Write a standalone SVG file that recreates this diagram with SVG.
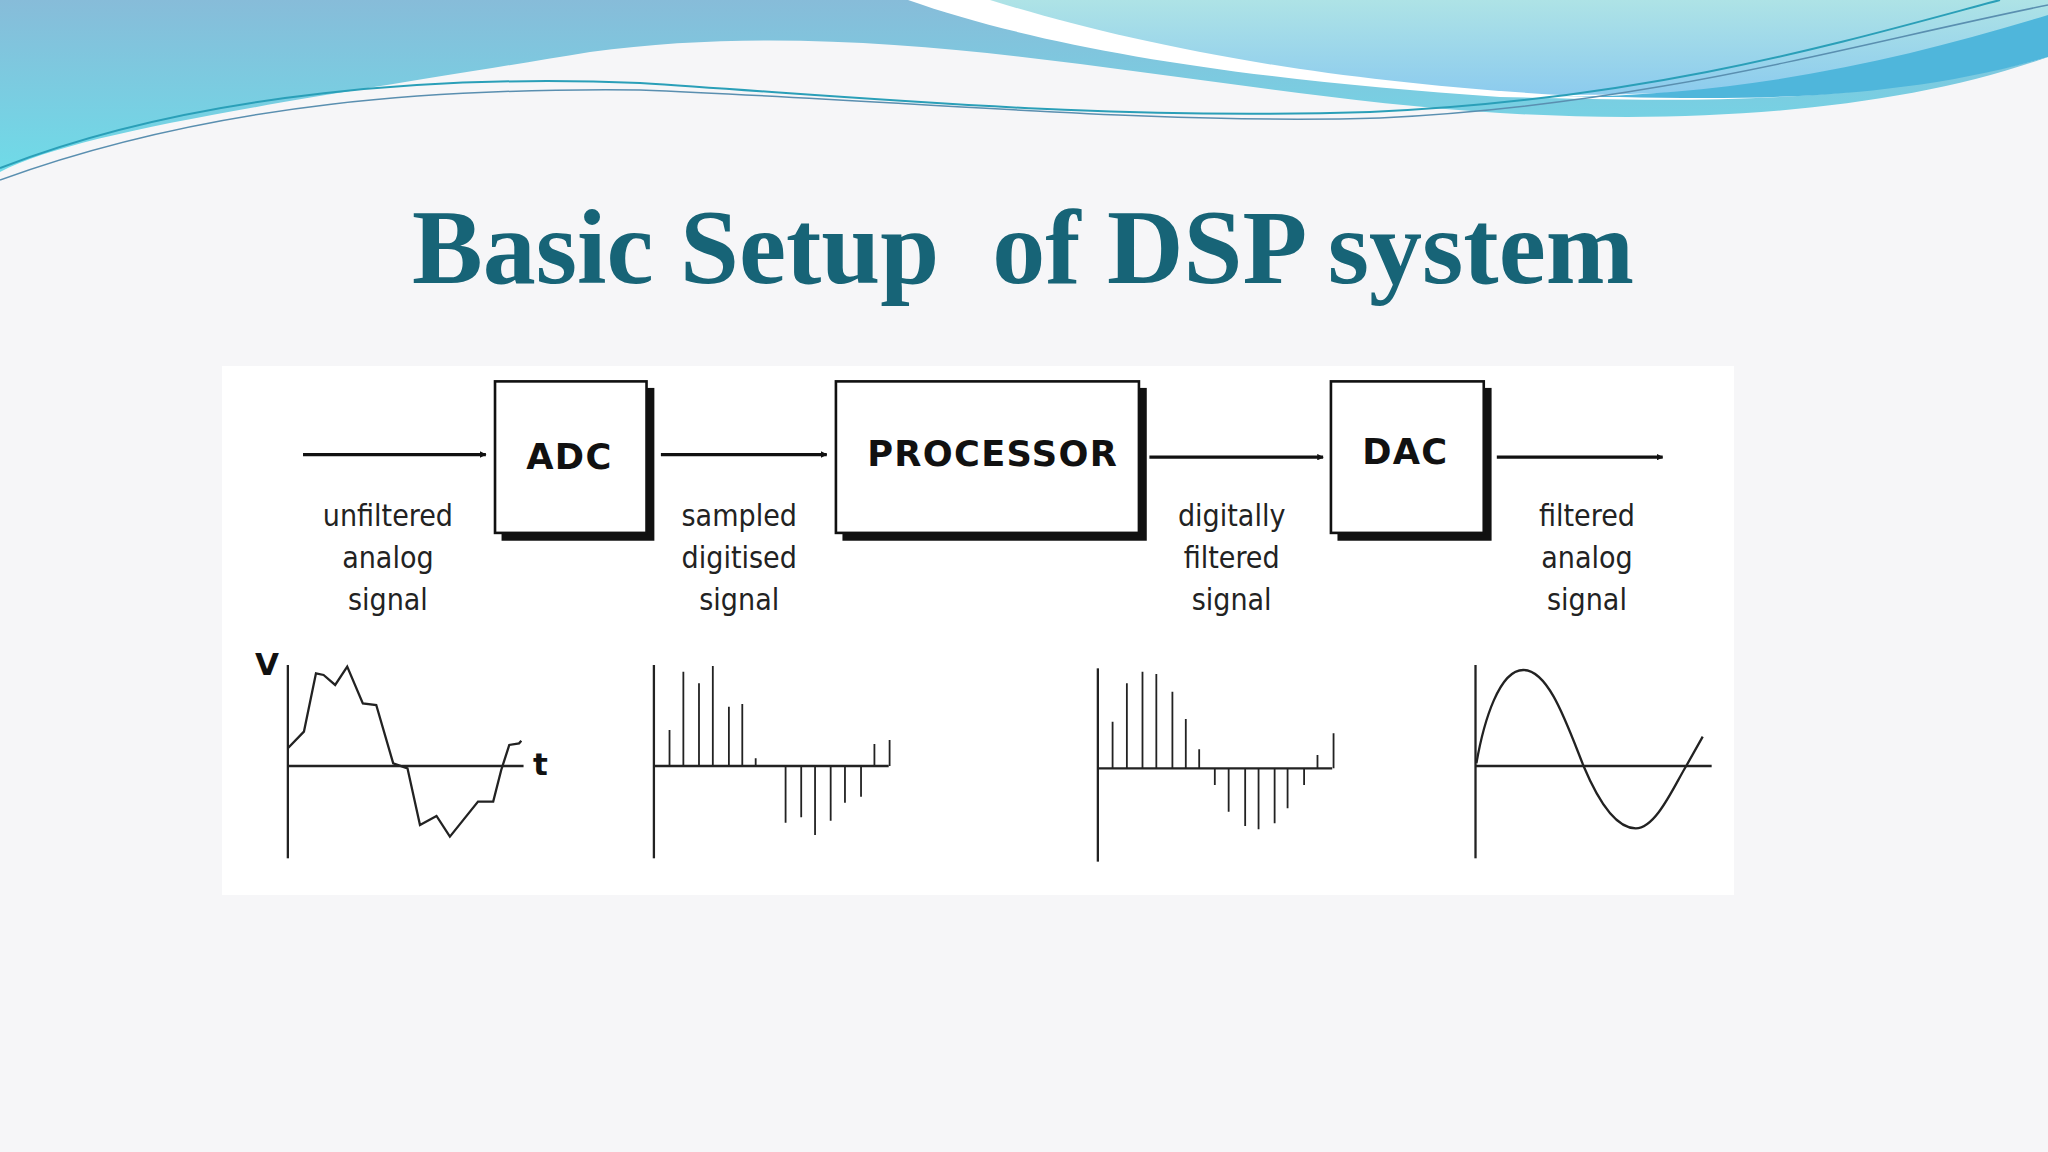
<svg xmlns="http://www.w3.org/2000/svg" width="2048" height="1152" viewBox="0 0 2048 1152">
<defs>
<linearGradient id="gA" x1="0" y1="0" x2="0" y2="1"><stop offset="0" stop-color="#87bcd9"/><stop offset="1" stop-color="#6fdbe8"/></linearGradient>
<linearGradient id="gB" x1="0" y1="0" x2="0" y2="1"><stop offset="0" stop-color="#aee3e6"/><stop offset="1" stop-color="#8ccbee"/></linearGradient>
<marker id="ah" viewBox="0 0 10 10" refX="9" refY="5" markerWidth="5" markerHeight="5" orient="auto" markerUnits="userSpaceOnUse"><path d="M0,0 L10,5 L0,10 z" fill="#111"/></marker>
<style>
.box{fill:#fff;stroke:#111;stroke-width:2}
.sh{fill:#111}
.bt{font-family:"DejaVu Sans",sans-serif;font-weight:bold;font-size:27px;fill:#111;text-anchor:middle;letter-spacing:1px}
.lb{font-family:"DejaVu Sans Condensed","DejaVu Sans",sans-serif;font-size:23px;fill:#222;text-anchor:middle}
.cn{stroke:#111;stroke-width:2.5;fill:none}
.w{stroke:#222;stroke-width:2.3;fill:none;vector-effect:non-scaling-stroke}
.ws{stroke:#222;stroke-width:1.8;fill:none;vector-effect:non-scaling-stroke}
.ax{font-family:"DejaVu Sans",sans-serif;font-weight:bold;font-size:31px;fill:#111}
</style>
</defs>
<rect width="2048" height="1152" fill="#f6f6f8"/>
<g id="header">
<path d="M0,0 H2048 V57 C1900,110 1700,125 1500,113 C1200,95 900,10 590,52 C300,100 80,130 0,172 Z" fill="url(#gA)"/>
<path d="M908,0 H2048 V57 C1850,110 1650,100 1500,97 C1250,80 1050,50 908,0 Z" fill="#fff"/>
<path d="M990,0 H2048 V25 C1900,85 1700,95 1560,95 C1300,80 1120,40 990,0 Z" fill="url(#gB)"/>
<path d="M1560,97 C1750,95 1900,60 2048,15 V57 C1900,100 1750,100 1620,97 Z" fill="#4fb6db"/>
<path d="M0,168 C200,90 450,75 640,83 C900,100 1100,120 1370,112 C1650,100 1850,40 2000,0" fill="none" stroke="#2a9fb8" stroke-width="2"/>
<path d="M0,180 C220,100 450,88 640,90 C900,100 1150,125 1380,118 C1650,105 1850,45 2048,5" fill="none" stroke="#5a8fb0" stroke-width="1.5"/>
</g>
<text x="1023" y="283" text-anchor="middle" font-family="Liberation Serif,serif" font-weight="bold" font-size="106" fill="#176477" xml:space="preserve">Basic Setup  of DSP system</text>
<rect x="222" y="366" width="1512" height="529" fill="#fff"/>
<g transform="scale(1.30612)">
<g id="connectors">
<line class="cn" x1="232" y1="348" x2="372" y2="348" marker-end="url(#ah)"/>
<line class="cn" x1="506" y1="348" x2="633" y2="348" marker-end="url(#ah)"/>
<line class="cn" x1="880" y1="350" x2="1013" y2="350" marker-end="url(#ah)"/>
<line class="cn" x1="1146" y1="350" x2="1273" y2="350" marker-end="url(#ah)"/>
</g>
<g id="adc"><rect class="sh" x="384" y="297" width="117" height="117"/><rect class="box" x="379" y="292" width="116" height="116"/><text class="bt" x="436" y="359">ADC</text></g>
<g id="processor"><rect class="sh" x="645" y="297" width="233" height="117"/><rect class="box" x="640" y="292" width="232" height="116"/><text class="bt" x="760" y="357">PROCESSOR</text></g>
<g id="dac"><rect class="sh" x="1024" y="297" width="118" height="117"/><rect class="box" x="1019" y="292" width="117" height="116"/><text class="bt" x="1076" y="355">DAC</text></g>
<g id="labels">
<text class="lb" x="297" y="403">unfiltered</text><text class="lb" x="297" y="435">analog</text><text class="lb" x="297" y="467">signal</text>
<text class="lb" x="566" y="403">sampled</text><text class="lb" x="566" y="435">digitised</text><text class="lb" x="566" y="467">signal</text>
<text class="lb" x="943" y="403">digitally</text><text class="lb" x="943" y="435">filtered</text><text class="lb" x="943" y="467">signal</text>
<text class="lb" x="1215" y="403">filtered</text><text class="lb" x="1215" y="435">analog</text><text class="lb" x="1215" y="467">signal</text>
</g>
</g>
<g id="wave1">
<g transform="translate(220,640) scale(0.4464,0.3333)">
<line class="w" x1="152" y1="75" x2="152" y2="655"/><line class="w" x1="152" y1="378" x2="680" y2="378"/>
<path class="w" d="M152,325 L188,275 L215,100 L232,105 L258,135 L285,80 L320,190 L350,195 L388,370 L420,385 L448,555 L485,528 L515,590 L578,485 L612,485 L630,390 L648,315 L670,310 L675,302"/>
</g>
<text class="ax" x="255" y="675">V</text>
<text class="ax" x="533" y="775">t</text>
</g>
<g id="wave2" transform="translate(220,640) scale(0.4464,0.3333)">
<line class="w" x1="972" y1="75" x2="972" y2="655"/><line class="w" x1="972" y1="378" x2="1498" y2="378"/>
<path class="ws" d="M1007,378V270M1038,378V95M1073,378V130M1104,378V78M1140,378V200M1170,378V192M1200,378V355M1466,378V312M1500,378V300M1267,378V548M1302,378V532M1333,378V585M1368,378V542M1400,378V488M1436,378V470"/>
</g>
<g id="wave3" transform="translate(1080,640) scale(0.4464,0.3333)">
<line class="w" x1="40" y1="85" x2="40" y2="665"/><line class="w" x1="40" y1="385" x2="565" y2="385"/>
<path class="ws" d="M73,385V245M105,385V130M140,385V95M171,385V102M207,385V155M237,385V237M267,385V328M532,385V345M568,385V280M302,385V435M333,385V515M370,385V558M400,385V568M436,385V550M465,385V505M502,385V435"/>
</g>
<g id="wave4" transform="translate(1080,640) scale(0.4464,0.3333)">
<line class="w" x1="886" y1="75" x2="886" y2="655"/><line class="w" x1="886" y1="378" x2="1415" y2="378"/>
<path class="w" d="M888,370 C905,240 940,90 993,90 C1050,90 1090,250 1128,378 C1160,480 1200,565 1245,565 C1290,565 1330,440 1358,378 L1395,290"/>
</g>
</svg>
